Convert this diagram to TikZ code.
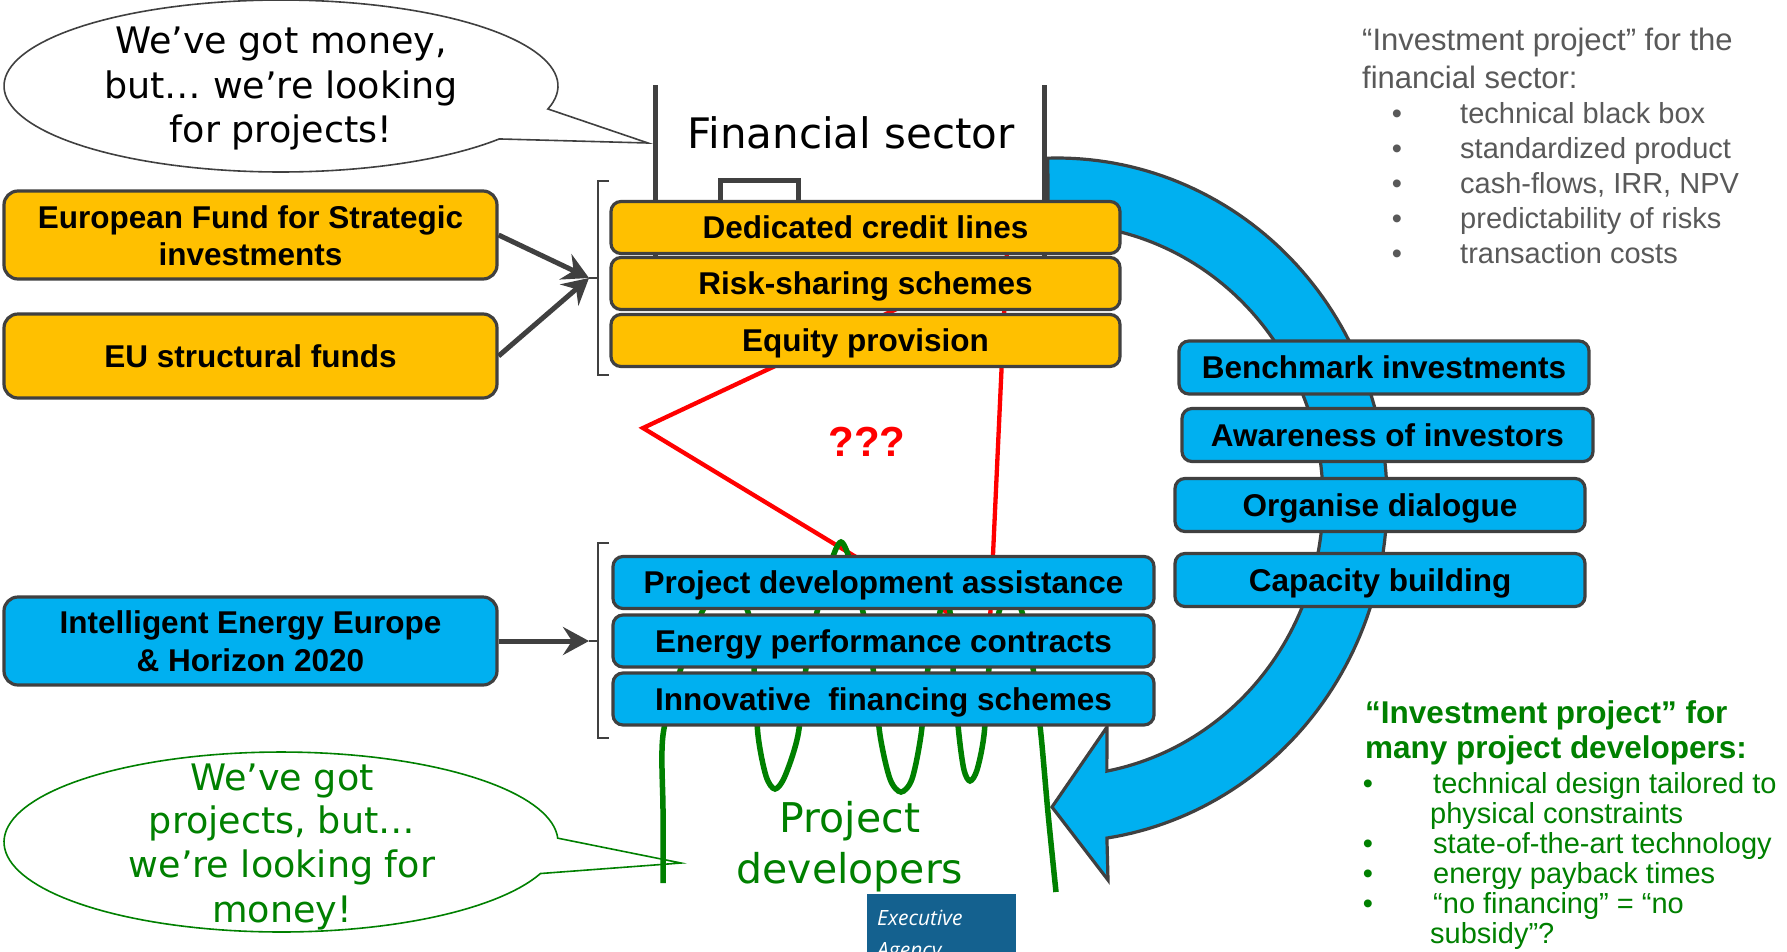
\documentclass[tikz,border=0pt]{standalone}
\usepackage{fontspec}
\setmainfont{Liberation Sans}
\newfontfamily\dvfont{DejaVu Sans}
\newfontfamily\osfont{Open Sans}
\usetikzlibrary{arrows.meta}
\definecolor{ygold}{HTML}{FFC000}
\definecolor{cyanb}{HTML}{00B0F0}
\definecolor{edge}{HTML}{404040}
\definecolor{gtext}{HTML}{595959}
\definecolor{dgreen}{HTML}{008000}
\definecolor{eablue}{HTML}{14618F}
\definecolor{redl}{HTML}{FF0000}
\begin{document}
\begin{tikzpicture}[x=1pt,y=-1pt,
 box/.style={draw=edge, line width=3.2pt, rounded corners=10pt, inner sep=0pt,
   text height=22.5pt, text depth=0pt, font=\bfseries\fontsize{31.5}{36}\selectfont},
 ybox/.style={box, fill=ygold, minimum width=509pt, minimum height=52pt},
 lbox/.style={box, fill=cyanb, minimum width=541pt, minimum height=52pt},
 rbox/.style={box, fill=cyanb, minimum width=410pt, minimum height=53pt},
 bigbox/.style={box, rounded corners=14pt, minimum width=493pt},
 boxtxt/.style={font=\bfseries\fontsize{31.5}{36}\selectfont, inner sep=0pt, anchor=base},
 dvtxt/.style={font=\dvfont\fontsize{36.5}{44}\selectfont, inner sep=0pt, anchor=base},
 graytxt/.style={text=gtext, inner sep=0pt, anchor=base west, font=\fontsize{29}{34}\selectfont},
 grntxt/.style={text=dgreen, inner sep=0pt, anchor=base west, font=\fontsize{29}{34}\selectfont},
 conn/.style={draw=edge, line width=5pt, -{Stealth[length=26pt,width=28pt,inset=9pt]}},
 brk/.style={draw=edge, line width=1.5pt},
 fsline/.style={draw=edge, line width=5pt},
 redline/.style={draw=redl, line width=4.3pt, line join=miter},
 grline/.style={draw=dgreen, line width=5.5pt},
 bubble/.style={line width=1.6pt, fill=white}
]
\useasboundingbox (0,0) rectangle (1787,951);
\fill[white] (0,0) rectangle (1787,951);

% circular arrow
\draw[draw=edge, line width=3.2pt, fill=cyanb, line join=miter]
  plot[domain=-91.6:81.3, samples=120] ({1057+330*cos(\x)},{500+342*sin(\x)})
  -- (1108,880) -- (1052,807) -- (1107,727)
  -- plot[domain=-79.2:91.9, samples=120] ({1057+266*cos(-\x)},{500+276*sin(-\x)})
  -- cycle;

% financial sector outline
\draw[fsline] (655,85) -- (655,262);
\draw[fsline] (1044,85) -- (1044,262);
\draw[fsline] (720,215) -- (720,180) -- (798,180) -- (798,215);
\node[font=\dvfont\fontsize{42}{50}\selectfont, inner sep=0pt, anchor=base] (fs) at (851,148) {Financial sector};

% speech bubbles
\coordinate (tip1) at (648,143);
\draw[bubble, draw=edge] (548,109) -- (tip1)
  -- plot[domain=38:375.5, samples=140] ({281+277*cos(\x)},{86+86*sin(\x)}) -- cycle;
\node[dvtxt] (q1a) at (281,53) {We’ve got money,};
\node[dvtxt] (q1b) at (281,98) {but… we’re looking};
\node[dvtxt] (q1c) at (281,142) {for projects!};

\coordinate (tip2) at (681,863);
\draw[bubble, draw=dgreen] (557,838) -- (tip2)
  -- plot[domain=20.5:357.5, samples=140] ({281+277*cos(\x)},{842+90*sin(\x)}) -- cycle;

% red lines
\draw[redline] (903,306) -- (643,428) -- (955,617);
\draw[redline] (1007,250) -- (990,620);
\node[text=redl, font=\bfseries\fontsize{42}{48}\selectfont, inner sep=0pt, anchor=base] (qm) at (867,456) {???};

% green lines
\draw[grline] plot[smooth, tension=0.5] coordinates {(663,883) (663,810) (663,735) (681,668) (702,612) (725,578) (748,612) (754,668) (758,735) (766,776) (775,789) (785,776) (798,735) (806,668) (817,612) (841,542) (863,612) (873,668) (880,735) (890,779) (901,792) (912,779) (921,735) (928,668) (940,612) (945,597) (950,612) (953,668) (959,735) (964,770) (970,781) (977,770) (984,735) (989,668) (999,612) (1010,592) (1022,612) (1033,668) (1041,735) (1048,813) (1056,892)};

% brackets
\coordinate (bt1) at (589,278);
\coordinate (bt2) at (589,641);
\draw[brk] (609,181) -- (598,181) -- (598,375) -- (609,375);
\draw[brk] (598,278) -- (bt1);
\draw[brk] (609,543) -- (598,543) -- (598,738) -- (609,738);
\draw[brk] (598,641) -- (bt2);

% financial instrument boxes
\node[ybox] (dcl) at (865.5,227.5) {Dedicated credit lines};
\node[ybox] (rss) at (865.5,283.5) {Risk-sharing schemes};
\node[ybox] (eqp) at (865.5,340.5) {Equity provision};
\node[lbox] (pda) at (883.5,582.5) {Project development assistance};
\node[lbox] (epc) at (883.5,641) {Energy performance contracts};
\node[lbox] (ifs) at (883.5,699) {Innovative\ \ financing schemes};

% right boxes
\node[rbox] (bmi) at (1384,367.5) {Benchmark investments};
\node[rbox, minimum width=411pt] (aoi) at (1387.5,435) {Awareness of investors};
\node[rbox] (ord) at (1380,505) {Organise dialogue};
\node[rbox] (cpb) at (1380,580) {Capacity building};

% left boxes
\node[bigbox, fill=ygold, minimum height=88pt] (efsi) at (250.5,235) {};
\node[boxtxt] (efsi1) at (250.5,228) {European Fund for Strategic};
\node[boxtxt] (efsi2) at (250.5,265) {investments};
\node[bigbox, fill=ygold, minimum height=84pt] (eu) at (250.5,356) {EU structural funds};
\node[bigbox, fill=cyanb, minimum height=88pt] (iee) at (250.5,641) {};
\node[boxtxt] (iee1) at (250.5,633) {Intelligent Energy Europe};
\node[boxtxt] (iee2) at (250.5,671) {\& Horizon 2020};

\draw[conn] (efsi.east) -- (bt1);
\draw[conn] (eu.east) -- (bt1);
\draw[conn] (iee.east) -- (bt2);

% project developers
\node[dvtxt, text=dgreen, font=\dvfont\fontsize{41}{50}\selectfont] (pd1) at (850,832) {Project};
\node[dvtxt, text=dgreen, font=\dvfont\fontsize{41}{50}\selectfont] (pd2) at (850,883) {developers};

\node[dvtxt, text=dgreen] (q2a) at (282,790) {We’ve got};
\node[dvtxt, text=dgreen] (q2b) at (282,833) {projects, but…};
\node[dvtxt, text=dgreen] (q2c) at (282,877) {we’re looking for};
\node[dvtxt, text=dgreen] (q2d) at (282,922) {money!};

% executive agency logo
\begin{scope}
\clip (0,0) rectangle (1787,951);
\fill[eablue] (867,894) rectangle (1016,960);
\node[anchor=base west, inner sep=0pt, text=white, font=\osfont\itshape\fontsize{21}{24}\selectfont] (ea1) at (877,925) {Executive};
\node[anchor=base west, inner sep=0pt, text=white, font=\osfont\itshape\fontsize{21}{24}\selectfont] (ea2) at (877,957) {Agency};
\end{scope}

% top right list
\node[graytxt, font=\fontsize{31}{36}\selectfont] (fh1) at (1362,50) {“Investment project” for the};
\node[graytxt, font=\fontsize{31}{36}\selectfont] (fh2) at (1362,88) {financial sector:};
\foreach \yy/\tt [count=\i] in {123/technical black box, 158/standardized product, 193/{cash-flows, IRR, NPV}, 228/predictability of risks, 263/transaction costs}{
  \node[graytxt, anchor=base] (fb\i) at (1397,\yy) {•};
  \node[graytxt] (ft\i) at (1460,\yy) {\tt};
}

% bottom right list
\node[grntxt, font=\bfseries\fontsize{31.5}{36}\selectfont] (gh1) at (1365,723) {“Investment project” for};
\node[grntxt, font=\bfseries\fontsize{31.5}{36}\selectfont] (gh2) at (1365,758) {many project developers:};
\node[grntxt, anchor=base] (gb1) at (1368,793) {•};
\node[grntxt] (gt1) at (1433,793) {technical design tailored to};
\node[grntxt] (gt1b) at (1430,823) {physical constraints};
\node[grntxt, anchor=base] (gb2) at (1368,853) {•};
\node[grntxt] (gt2) at (1433,853) {state-of-the-art technology};
\node[grntxt, anchor=base] (gb3) at (1368,883) {•};
\node[grntxt] (gt3) at (1433,883) {energy payback times};
\node[grntxt, anchor=base] (gb4) at (1368,913) {•};
\node[grntxt] (gt4) at (1433,913) {“no financing” = “no};
\node[grntxt] (gt4b) at (1430,943) {subsidy”?};
\end{tikzpicture}
\end{document}
